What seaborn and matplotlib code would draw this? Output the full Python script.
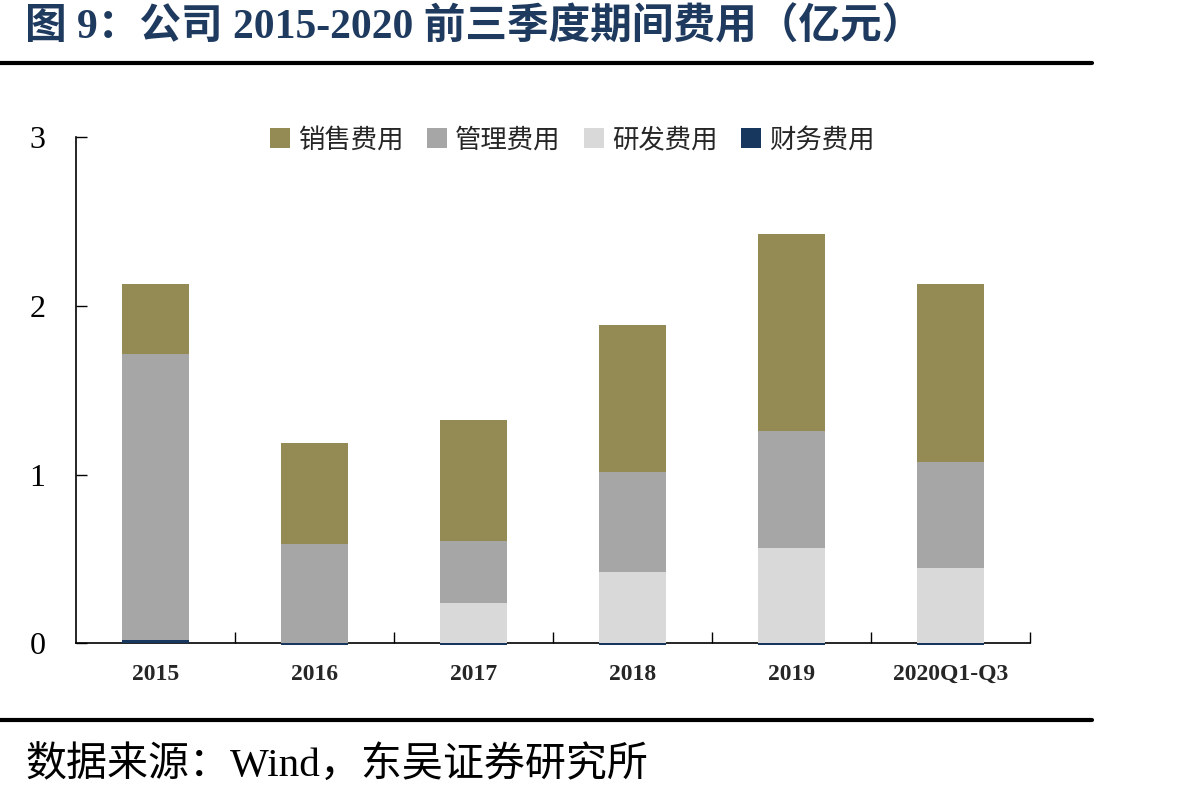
import matplotlib
matplotlib.use("Agg")
import matplotlib.pyplot as plt
import seaborn as sns
import pandas as pd
from matplotlib.lines import Line2D
from matplotlib.patches import Patch

# Data (亿元)
years = ["2015", "2016", "2017", "2018", "2019", "2020Q1-Q3"]
sales = [0.415, 0.603, 0.717, 0.871, 1.167, 1.055]      # 销售费用
admin = [1.695, 0.587, 0.368, 0.593, 0.694, 0.628]      # 管理费用
rnd = [0.0, 0.0, 0.237, 0.421, 0.563, 0.445]            # 研发费用
finance = [0.02, -0.008, -0.008, -0.008, -0.008, -0.008]  # 财务费用

series_names = ["销售费用", "管理费用", "研发费用", "财务费用"]
colors = ["#948A54", "#A6A6A6", "#D9D9D9", "#17375E"]

df = pd.DataFrame({"year": years, "sales": sales, "admin": admin,
                   "rnd": rnd, "finance": finance})
fin_pos = df["finance"].clip(lower=0)
df["lvl_rnd"] = fin_pos + df["rnd"]
df["lvl_admin"] = df["lvl_rnd"] + df["admin"]
df["lvl_sales"] = df["lvl_admin"] + df["sales"]

sns.set_theme(style="white")
plt.rcParams["font.family"] = ["Liberation Serif", "Noto Sans CJK SC", "DejaVu Sans"]
plt.rcParams["axes.unicode_minus"] = False

fig = plt.figure(figsize=(11.87, 7.98), dpi=100)
ax = fig.add_axes([0.064, 0.194, 0.804, 0.634])

# cumulative layers, tallest first
for col, c in zip(["lvl_sales", "lvl_admin", "lvl_rnd", "finance"], colors):
    sns.barplot(data=df, x="year", y=col, color=c, width=0.42,
                saturation=1, ax=ax, clip_on=False, linewidth=0, zorder=3)

ax.set_xlim(-0.5, 5.5)
ax.set_ylim(0, 3)
ax.set_yticks([0, 1, 2, 3])
ax.set_xlabel("")
ax.set_ylabel("")
for s in ["top", "right"]:
    ax.spines[s].set_visible(False)
for s in ["left", "bottom"]:
    ax.spines[s].set_color("black")
    ax.spines[s].set_linewidth(1.2)
    ax.spines[s].set_zorder(2)

ax.tick_params(axis="y", direction="in", length=8, width=1, colors="black",
               labelsize=23, pad=22, left=True)
ax.tick_params(axis="x", which="major", length=0, labelsize=17, pad=15)
ax.set_xticks(range(len(years)))
ax.set_xticklabels(years, fontweight="bold")
ax.set_xticks([i + 0.5 for i in range(len(years))], minor=True)
ax.tick_params(axis="x", which="minor", direction="in", length=8, width=1,
               color="black", bottom=True)

handles = [Patch(facecolor=c, edgecolor="none") for c in colors]
ax.legend(handles, series_names, loc="center", bbox_to_anchor=(0.52, 0.995),
          ncol=4, frameon=False, handlelength=0.75, handleheight=0.75,
          handletextpad=0.3, columnspacing=0.9,
          prop={"family": ["Noto Sans CJK SC"], "size": 19})

# title, rules and source
fig.text(0.021, 0.966, "图 9：公司 2015-2020 前三季度期间费用（亿元）",
         fontsize=30, fontweight="bold", color="#1F3A5F", va="center", ha="left")
fig.add_artist(Line2D([0, 0.92], [0.921, 0.921], color="black", lw=3))
fig.add_artist(Line2D([0, 0.92], [0.098, 0.098], color="black", lw=3))
fig.text(0.021, 0.04, "数据来源：Wind，东吴证券研究所", fontsize=29.5,
         color="black", va="center", ha="left")

fig.savefig("out.png", dpi=100)
